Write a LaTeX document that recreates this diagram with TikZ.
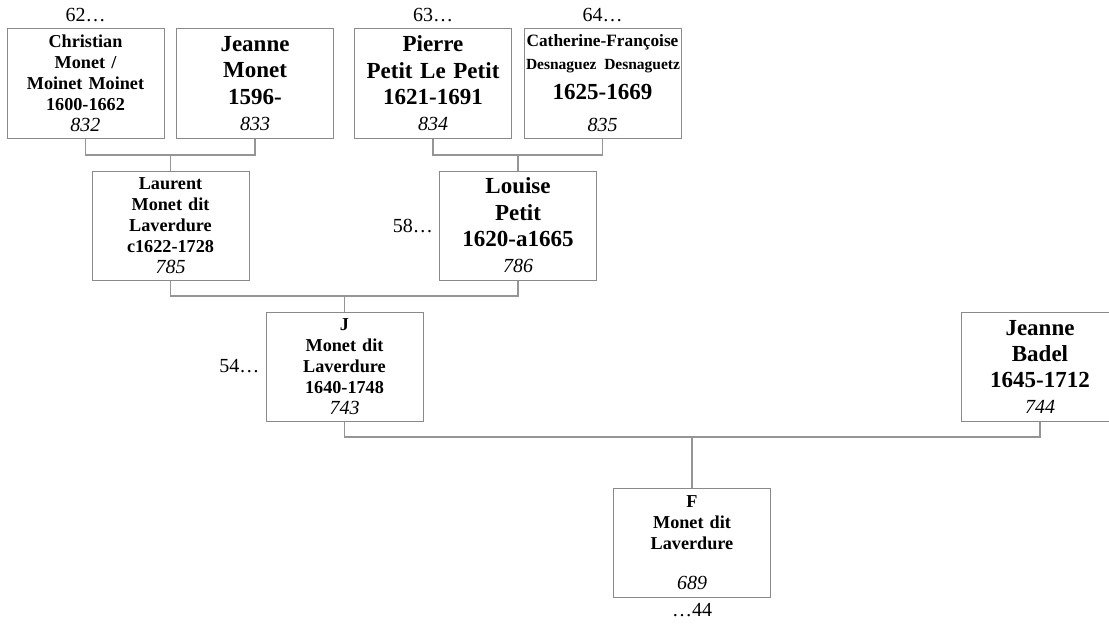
\documentclass[tikz,border=0pt]{standalone}
\usepackage{fontspec}
\setmainfont{Liberation Serif}
\usepackage{xcolor}
\usepackage{tikz}
\usetikzlibrary{positioning}
\definecolor{framegray}{HTML}{8A8A8A}
\definecolor{linkgray}{HTML}{959595}
\newcommand{\refno}[1]{{\fontsize{20}{21}\selectfont\mdseries\itshape #1}}

\begin{document}
\begin{tikzpicture}[x=1pt, y=-1pt,
  smallbox/.style={draw=framegray, line width=1pt, text width=153pt, minimum height=109pt, inner sep=2pt, align=center, font=\fontsize{18.2}{21}\selectfont\bfseries},
  bigbox/.style={smallbox, font=\fontsize{23}{26.3}\selectfont\bfseries},
  gen/.style={inner sep=0pt, font=\fontsize{20}{22}\selectfont},
  link/.style={draw=linkgray, line width=1.1pt}]
\useasboundingbox (0,0) rectangle (1109,626);
\clip (0,0) rectangle (1109,626);
\node[smallbox] (p832) at (85.5,83.5) {Christian\\Monet /\\Moinet Moinet\\1600-1662\\\refno{832}};
\node[bigbox] (p833) at (255,83.5) {Jeanne\\Monet\\1596-\\\refno{833}};
\node[bigbox] (p834) at (433,83.5) {Pierre\\Petit Le Petit\\1621-1691\\\refno{834}};
\node[bigbox] (p835) at (602.5,83.5) {\mbox{\fontsize{17.3}{21}\selectfont Catherine-Françoise}\\[-3.5pt]\mbox{\fontsize{15.5}{21}\selectfont Desnaguez Desnaguetz}\\[3.5pt]1625-1669\\[6pt]\refno{835}};
\node[smallbox] (p785) at (170.5,225.5) {Laurent\\Monet dit\\Laverdure\\c1622-1728\\\refno{785}};
\node[bigbox] (p786) at (518,225.5) {Louise\\Petit\\1620-a1665\\\refno{786}};
\node[smallbox] (p743) at (344.5,366.5) {J\\Monet dit\\Laverdure\\1640-1748\\\refno{743}};
\node[bigbox] (p744) at (1040,367) {Jeanne\\Badel\\1645-1712\\\refno{744}};
\node[smallbox] (p689) at (692,542.5) {F\\Monet dit\\Laverdure\\[19pt]\refno{689}};
\node[gen, above=7pt of p832] (g62) {62…};
\node[gen, above=7pt of p834] (g63) {63…};
\node[gen, above=7pt of p835] (g64) {64…};
\node[gen, left=6pt of p786] (g58) {58…};
\node[gen, left=6pt of p743] (g54) {54…};
\node[gen, below=6pt of p689] (g44) {…44};
\coordinate (j785) at (170.5,155);
\coordinate (j786) at (518,155);
\coordinate (j743) at (344.5,296);
\coordinate (j689) at (692,437);
\draw[link] (p832.south) |- (j785) -| (p833.south);
\draw[link] (j785) -- (p785.north);
\draw[link] (p834.south) |- (j786) -| (p835.south);
\draw[link] (j786) -- (p786.north);
\draw[link] (p785.south) |- (j743) -| (p786.south);
\draw[link] (j743) -- (p743.north);
\draw[link] (p743.south) |- (j689) -| (p744.south);
\draw[link] (j689) -- (p689.north);
\end{tikzpicture}
\end{document}
